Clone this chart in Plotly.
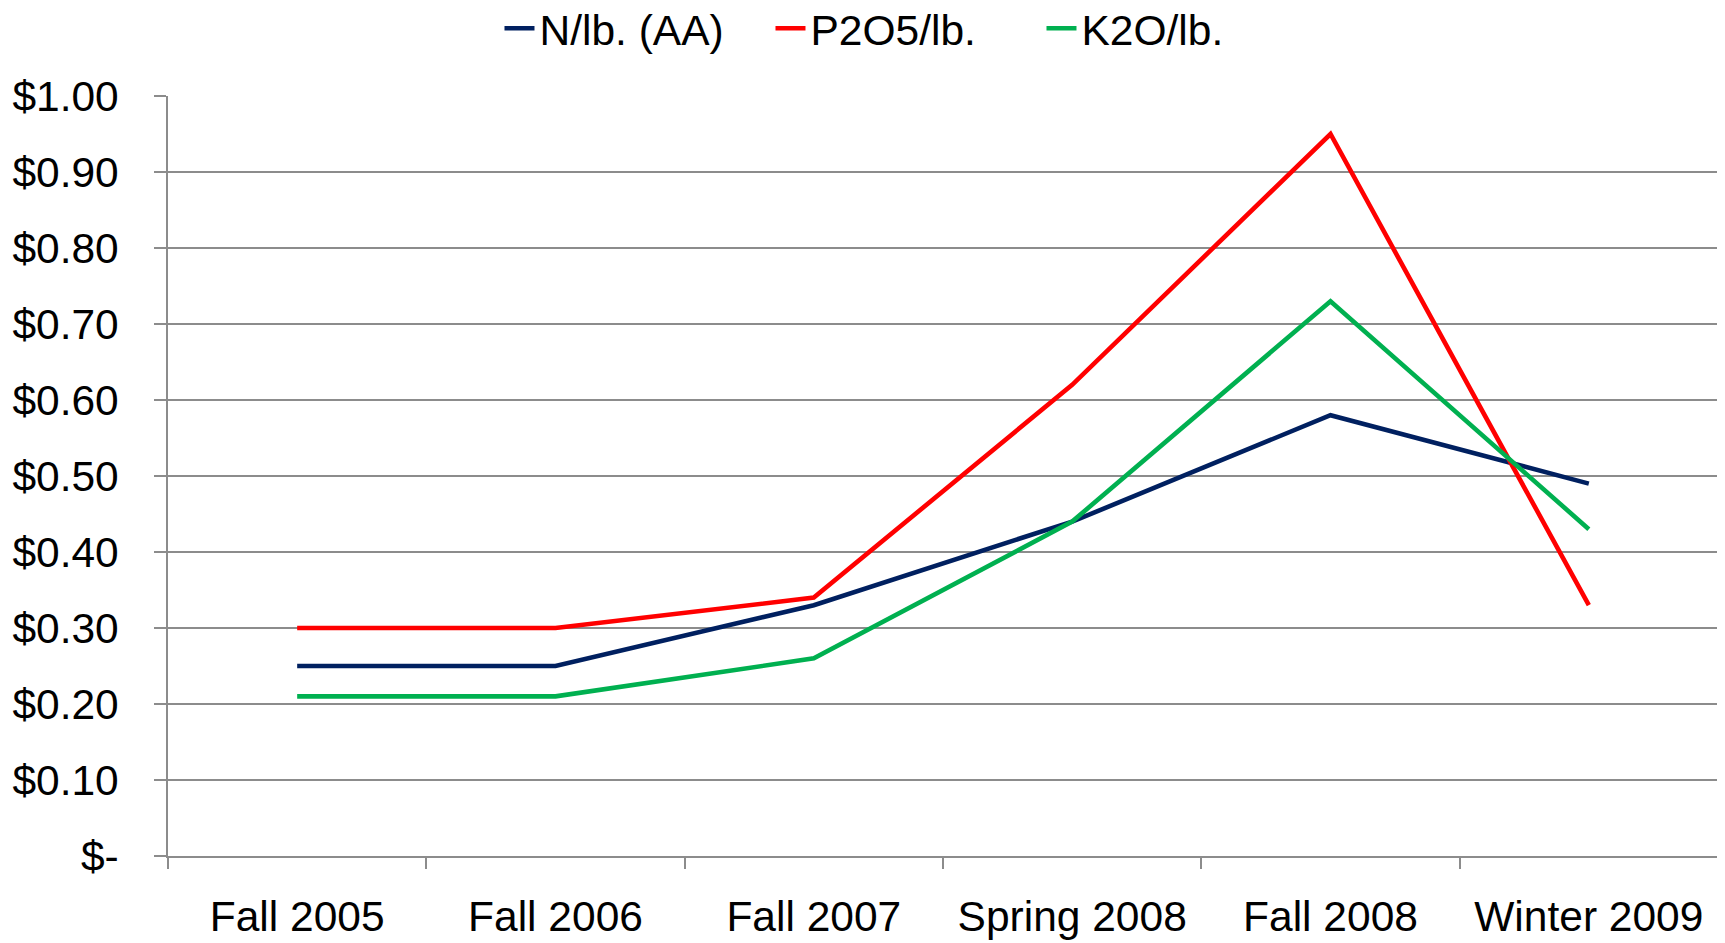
import plotly.graph_objects as go

categories = ["Fall 2005", "Fall 2006", "Fall 2007", "Spring 2008", "Fall 2008", "Winter 2009"]
n_aa = [0.25, 0.25, 0.33, 0.44, 0.58, 0.49]
p2o5 = [0.30, 0.30, 0.34, 0.62, 0.95, 0.33]
k2o = [0.21, 0.21, 0.26, 0.44, 0.73, 0.43]
y_tickvals = [0, 0.1, 0.2, 0.3, 0.4, 0.5, 0.6, 0.7, 0.8, 0.9, 1.0]
y_ticktext = ["$-", "$0.10", "$0.20", "$0.30", "$0.40", "$0.50", "$0.60", "$0.70", "$0.80", "$0.90", "$1.00"]

FONT = "Liberation Sans, Arial, sans-serif"
GRID = "#8c8c8c"
FS = 42.5

fig = go.Figure()
for name, vals, color in [("N/lb. (AA)", n_aa, "#002060"),
                          ("P2O5/lb.", p2o5, "#FF0000"),
                          ("K2O/lb.", k2o, "#00B050")]:
    fig.add_trace(go.Scatter(x=categories, y=vals, name=name, mode="lines",
                             line=dict(color=color, width=4.6)))

# page body has an 8px margin, so the figure is sized to fit the window
fig.update_layout(
    width=1717, height=935,
    margin=dict(l=160, r=7, t=88, b=87, autoexpand=False),
    paper_bgcolor="white", plot_bgcolor="white",
    font=dict(family=FONT, size=FS, color="black"),
    showlegend=True,
    legend=dict(orientation="h", xref="container", yref="container",
                x=0.523, xanchor="center", y=0.978, yanchor="middle",
                font=dict(size=FS), itemwidth=30, entrywidth=226,
                bgcolor="rgba(0,0,0,0)"),
)
fig.update_xaxes(type="category", range=[-0.5, 5.5], tickson="boundaries",
                 ticks="outside", ticklen=11, tickcolor=GRID, tickwidth=1.5,
                 showline=True, linecolor=GRID, linewidth=1.5,
                 showgrid=False, zeroline=False, automargin=False,
                 ticklabelstandoff=22,
                 tickfont=dict(size=FS, family=FONT))
fig.update_yaxes(range=[0, 1.0], tickvals=y_tickvals, ticktext=y_ticktext,
                 ticks="outside", ticklen=12, tickcolor=GRID, tickwidth=1.5,
                 showline=True, linecolor=GRID, linewidth=1.5,
                 showgrid=True, gridcolor=GRID, gridwidth=1.5,
                 zeroline=False, automargin=False, ticklabelstandoff=27,
                 tickfont=dict(size=FS, family=FONT))

fig.write_html("out.html")
